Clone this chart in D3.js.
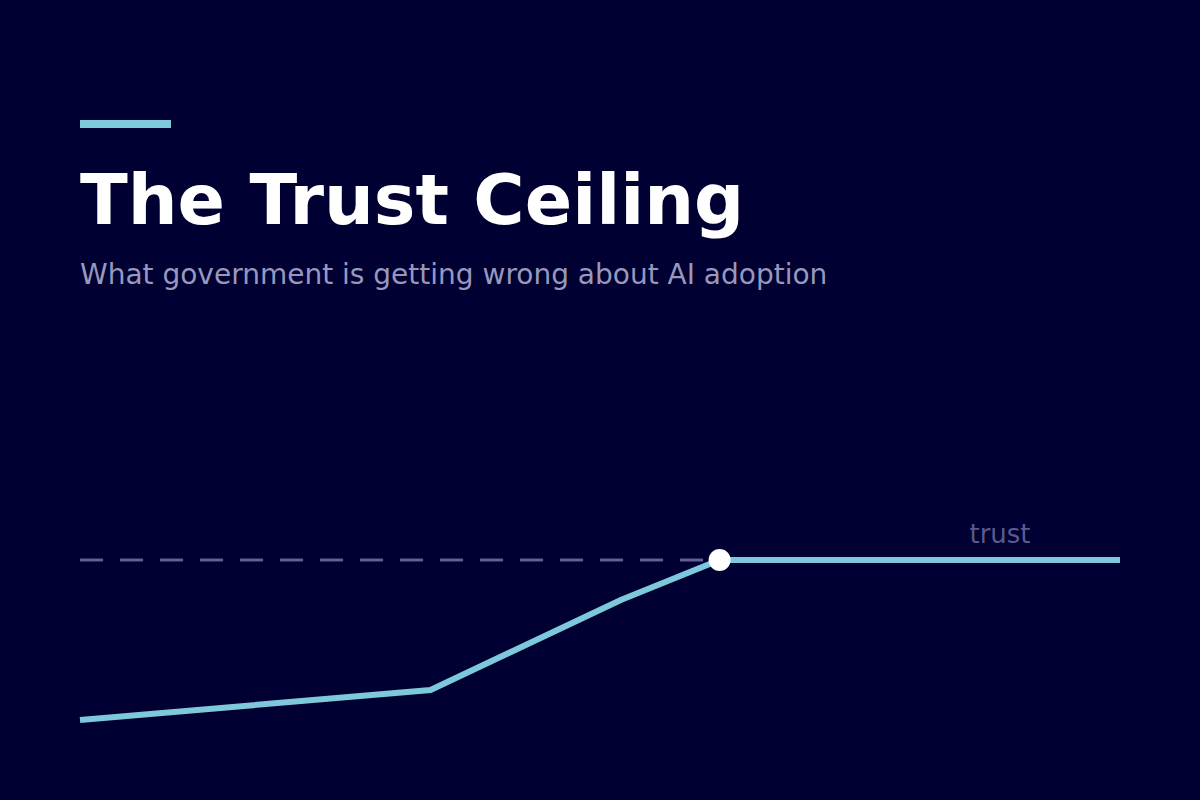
<!DOCTYPE html>
<html><head><meta charset="utf-8">
<script src="https://cdn.jsdelivr.net/npm/d3@7/dist/d3.min.js"></script>
<style>html,body{margin:0;padding:0;background:#000033;}svg{display:block;}</style>
</head><body>
<script>
const title = "The Trust Ceiling";
const subtitle = "What government is getting wrong about AI adoption";
const stages = [0, 33.7, 52, 61.5, 100];
const adoption = [10, 17.5, 40, 50, 50];
const ceilingValue = 50;
const ceilingLabel = "trust";

const W = 1200, H = 800;
const svg = d3.select("body").append("svg").attr("width", W).attr("height", H);
svg.append("rect").attr("width", W).attr("height", H).attr("fill", "#000033");

const x = d3.scaleLinear().domain([0, 100]).range([80, 1120]);
const y = d3.scaleLinear().domain([0, 100]).range([760, 360]);

svg.append("rect").attr("x", 80).attr("y", 120).attr("width", 91).attr("height", 8).attr("fill", "#7ec8dc");
svg.append("text").attr("x", 80).attr("y", 224).text(title)
  .attr("font-family", "DejaVu Sans").attr("font-weight", "bold").attr("font-size", 70).attr("fill", "#ffffff");
svg.append("text").attr("x", 80).attr("y", 284).text(subtitle)
  .attr("font-family", "DejaVu Sans").attr("font-size", 28).attr("fill", "#9898bc");

const peakIdx = 3;
svg.append("line")
  .attr("x1", x(stages[0])).attr("x2", x(stages[peakIdx]))
  .attr("y1", y(ceilingValue)).attr("y2", y(ceilingValue))
  .attr("stroke", "#5f5f95").attr("stroke-width", 3).attr("stroke-dasharray", "23,17");

const pts = stages.map((s, i) => [s, adoption[i]]);
svg.append("path").datum(pts)
  .attr("d", d3.line().x(d => x(d[0])).y(d => y(d[1])))
  .attr("fill", "none").attr("stroke", "#7ec8dc").attr("stroke-width", 6);

svg.append("circle").attr("cx", x(stages[peakIdx])).attr("cy", y(adoption[peakIdx])).attr("r", 11).attr("fill", "#ffffff");

svg.append("text").attr("x", 1000).attr("y", 543).attr("text-anchor", "middle").text(ceilingLabel)
  .attr("font-family", "DejaVu Sans").attr("font-size", 26).attr("fill", "#5a5a8c");
</script>
</body></html>
